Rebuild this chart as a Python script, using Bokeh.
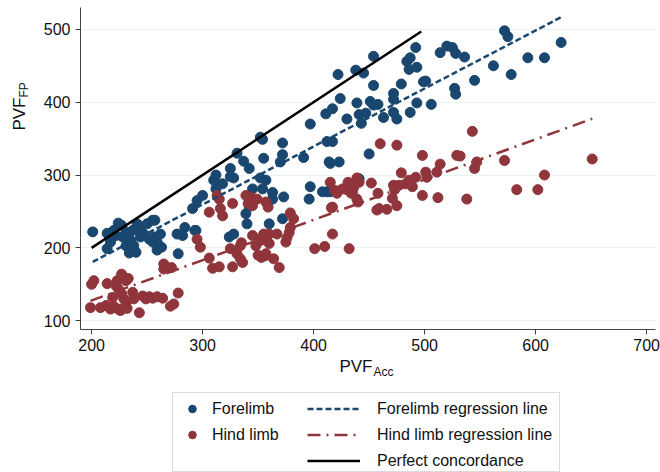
import numpy as np
from bokeh.plotting import figure
from bokeh.layouts import column, row
from bokeh.models import (Legend, LegendItem, Label, FixedTicker, BoxAnnotation, Range1d)
from bokeh.embed import file_html
from bokeh.resources import INLINE

# ---- data ----
fl_x = [201, 214, 224, 227, 217, 214, 231, 234, 237, 241, 244, 247, 250, 255, 257, 235, 238, 234, 240, 231,
        228, 244, 252, 256, 259, 262, 263, 259, 255, 278, 277, 282, 284, 293, 220, 222,
        291, 295, 300, 310, 313,
        312, 318, 325, 325, 328, 331, 337, 342, 352, 354, 352, 357, 355, 372, 372, 370, 391, 397, 411, 412,
        414, 345, 312, 397,
        294, 324, 328, 340, 360, 372, 339, 342, 363, 363, 354, 373, 396, 408, 412,
        423, 415, 450, 415, 441,
        454, 422, 438, 445, 424, 417, 430, 439, 441, 447, 443, 451, 454, 458, 454, 463, 472, 472, 472, 475,
        479, 487, 493, 486, 493, 484, 487, 492, 499, 501, 506, 514, 520, 525, 528, 536, 527, 528, 545, 417,
        572, 575, 562, 578, 593, 608, 623]
fl_y = [222, 220, 234, 231, 208, 199, 222, 212, 224, 233, 226, 219, 233, 238, 238, 210, 203, 193, 194, 203,
        215, 215, 212, 215, 208, 219, 201, 197, 208, 192, 219, 217, 228, 224, 224, 217,
        254, 265, 272, 293, 288,
        300, 288, 298, 309, 296, 330, 319, 309, 352, 349, 296, 293, 323, 344, 328, 318, 324, 370, 384, 346,
        318, 281, 281, 284,
        224, 215, 219, 233, 233, 240, 247, 257, 267, 276, 281, 270, 267, 277, 277,
        318, 316, 329, 277, 295,
        463, 438, 444, 440, 405, 391, 377, 399, 383, 385, 371, 401, 396, 397, 423, 379, 412, 404, 386, 377,
        425, 386, 399, 445, 448, 456, 461, 475, 428, 429, 397, 468, 477, 475, 467, 462, 419, 411, 430, 346,
        498, 490, 450, 438, 461, 461, 482]

hl_x = [199, 200, 202, 214, 208, 213, 219, 217, 220, 224, 222, 223, 227, 231, 233, 224, 227, 229, 231, 226,
        232, 237, 238, 243, 246, 249, 252, 255, 259, 264, 265, 272, 265, 271, 274, 278,
        295, 298, 306, 309, 315, 327, 325, 331, 334, 336, 334, 335, 345, 348, 352, 354, 355, 350, 353, 356,
        357, 360, 360, 364, 369, 367, 375, 376, 378, 379, 382, 401, 410, 432, 417,
        306, 316, 318, 315, 313, 327, 339, 343, 345, 341, 345, 349, 357, 359, 379,
        417, 426, 415, 419, 421, 430, 432, 434, 431, 436, 435, 439, 441, 439, 440, 452, 458, 457, 459, 466,
        475, 471, 472, 473, 477, 483, 486, 489, 492, 479, 416,
        460, 475, 543, 498, 529, 514, 501, 502, 511, 498, 512, 538, 547, 545, 532, 572, 651, 608, 583, 602]
hl_y = [118, 150, 155, 151, 118, 121, 132, 116, 120, 116, 148, 155, 164, 155, 158, 144, 137, 130, 125, 114,
        117, 139, 130, 111, 134, 130, 133, 131, 133, 131, 171, 173, 178, 120, 123, 138,
        212, 201, 186, 172, 174, 174, 199, 192, 185, 180, 203, 207, 217, 203, 210, 215, 219, 190, 187, 189,
        192, 206, 219, 185, 173, 219, 208, 214, 221, 228, 240, 199, 202, 199, 219,
        249, 254, 244, 267, 272, 261, 272, 270, 267, 261, 258, 267, 263, 256, 248,
        256, 281, 290, 279, 275, 280, 287, 275, 290, 283, 277, 296, 290, 267, 263, 289, 275, 252, 254, 253,
        258, 268, 286, 280, 286, 288, 293, 284, 297, 303, 255,
        343, 341, 360, 327, 327, 315, 304, 297, 304, 272, 269, 267, 318, 309, 326, 320, 322, 300, 280, 280]

# regression lines (slope, intercept)
fl_slope, fl_intercept = 0.796, 20.8
hl_slope, hl_intercept = 0.553, 17.3
concord_range = [200, 497]

x_ticks = [200, 300, 400, 500, 600, 700]
y_ticks = [100, 200, 300, 400, 500]

BLUE = "#1a476f"
RED = "#90353b"
FONT = "Liberation Sans"
TXT = "#111111"
FL_DASH = "6 3"
HL_DASH = "13 6 2 6"

# ---------------- main plot ----------------
p = figure(width=620, height=358, x_range=Range1d(190, 708), y_range=Range1d(88, 530),
           output_backend="svg", toolbar_location=None,
           min_border_left=40, min_border_right=5, min_border_top=7, min_border_bottom=29)
p.outline_line_color = None
p.xgrid.visible = False
p.ygrid.grid_line_color = "#eaf2f3"
p.ygrid.grid_line_width = 1.2

p.xaxis.ticker = FixedTicker(ticks=x_ticks)
p.yaxis.ticker = FixedTicker(ticks=y_ticks)
for ax in (p.xaxis[0], p.yaxis[0]):
    ax.minor_tick_line_color = None
    ax.major_tick_in = 0
    ax.major_tick_out = 5
    ax.axis_line_color = "#444444"
    ax.major_tick_line_color = "#444444"
    ax.major_label_text_font = FONT
    ax.major_label_text_font_size = "16px"
    ax.major_label_text_color = TXT
p.xaxis.major_label_standoff = 4
p.yaxis.major_label_standoff = 5

p.scatter(fl_x, fl_y, size=10, fill_color=BLUE, line_color=BLUE)
p.scatter(hl_x, hl_y, size=10, fill_color=RED, line_color=RED)

fx = np.array([min(fl_x), max(fl_x)], dtype=float)
hx = np.array([min(hl_x), max(hl_x)], dtype=float)
p.line(fx, fl_intercept + fl_slope * fx, line_color=BLUE, line_width=2.5, line_dash=FL_DASH)
p.line(hx, hl_intercept + hl_slope * hx, line_color=RED, line_width=2.5, line_dash=HL_DASH)
p.line(concord_range, concord_range, line_color="black", line_width=2.5)

# ---------------- y-axis title (left strip) ----------------
yfig = figure(width=40, height=358, x_range=Range1d(0, 1), y_range=Range1d(0, 1),
              output_backend="svg", toolbar_location=None, x_axis_type=None, y_axis_type=None,
              min_border=0, min_border_left=0, min_border_right=0, min_border_top=0, min_border_bottom=0)
yfig.outline_line_color = None
yfig.grid.visible = False
yfig.add_layout(Label(x=18.5, y=232, x_units="screen", y_units="screen", text="PVF", text_align="right",
                      text_baseline="middle", angle=np.pi / 2, text_font=FONT, text_font_size="17px",
                      text_color=TXT))
yfig.add_layout(Label(x=23.5, y=232, x_units="screen", y_units="screen", text="FP", text_align="left",
                      text_baseline="middle", angle=np.pi / 2, text_font=FONT, text_font_size="12px",
                      text_color=TXT))

# ---------------- x-axis title + legend (bottom strip) ----------------
bfig = figure(width=660, height=114, x_range=Range1d(0, 1), y_range=Range1d(0, 1),
              output_backend="svg", toolbar_location=None, x_axis_type=None, y_axis_type=None,
              min_border=0, min_border_left=0, min_border_right=0, min_border_top=0, min_border_bottom=0)
bfig.outline_line_color = None
bfig.grid.visible = False
bfig.add_layout(Label(x=372, y=106, x_units="screen", y_units="screen", text="PVF", text_align="right",
                      text_baseline="middle", text_font=FONT, text_font_size="17px", text_color=TXT))
bfig.add_layout(Label(x=373, y=101, x_units="screen", y_units="screen", text="Acc", text_align="left",
                      text_baseline="middle", text_font=FONT, text_font_size="12px", text_color=TXT))

bfig.add_layout(BoxAnnotation(left=172, right=559, top=80, bottom=1,
                              left_units="screen", right_units="screen", top_units="screen",
                              bottom_units="screen", fill_color=None, fill_alpha=0,
                              line_color="#888888", line_width=1))

# legend key renderers (same styles as the marks; a single undrawn NaN point each)
nan_pt = [float("nan")]
k_fl = bfig.scatter(x=nan_pt, y=nan_pt, size=9, fill_color=BLUE, line_color=BLUE)
k_hl = bfig.scatter(x=nan_pt, y=nan_pt, size=9, fill_color=RED, line_color=RED)
k_flr = bfig.line(x=nan_pt, y=nan_pt, line_color=BLUE, line_width=2.5, line_dash=FL_DASH)
k_hlr = bfig.line(x=nan_pt, y=nan_pt, line_color=RED, line_width=2.5, line_dash=HL_DASH)
k_con = bfig.line(x=nan_pt, y=nan_pt, line_color="black", line_width=2.5)

legA = Legend(items=[LegendItem(label="Forelimb", renderers=[k_fl]),
                     LegendItem(label="Hind limb", renderers=[k_hl])],
              location=(182, 28), glyph_width=20, glyph_height=19, spacing=7, padding=0, margin=0,
              label_standoff=10, border_line_color=None, background_fill_alpha=0,
              label_text_font=FONT, label_text_font_size="16px", label_text_color=TXT)
legB = Legend(items=[LegendItem(label="Forelimb regression line", renderers=[k_flr]),
                     LegendItem(label="Hind limb regression line", renderers=[k_hlr]),
                     LegendItem(label="Perfect concordance", renderers=[k_con])],
              location=(307, 2), glyph_width=53, glyph_height=19, spacing=7, padding=0, margin=0,
              label_standoff=17, border_line_color=None, background_fill_alpha=0,
              label_text_font=FONT, label_text_font_size="16px", label_text_color=TXT)
bfig.add_layout(legA)
bfig.add_layout(legB)

layout = column(row(yfig, p, spacing=0), bfig, spacing=0)
open("out.html", "w").write(file_html(layout, INLINE))
